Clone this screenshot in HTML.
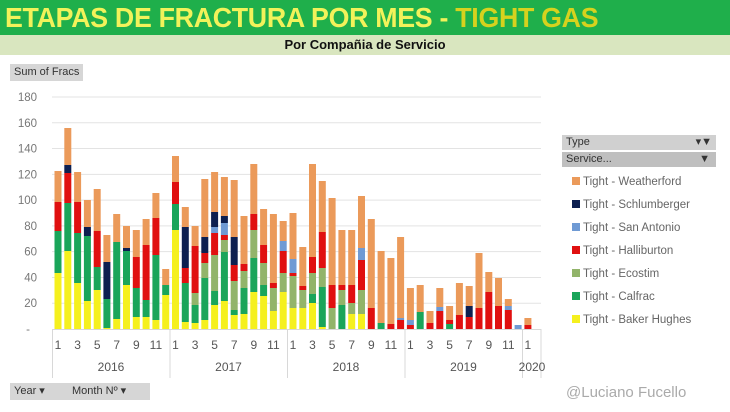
<!DOCTYPE html>
<html><head><meta charset="utf-8"><style>
body{margin:0;width:730px;height:412px;overflow:hidden;background:#fff;font-family:"Liberation Sans",sans-serif;position:relative}
.t{position:absolute;left:0;top:0;width:730px;height:35px;background:#1faf4b;}
.t span.m{position:absolute;left:5px;top:2px;font-size:28px;font-weight:bold;color:#f2f25a;letter-spacing:-0.3px;white-space:nowrap;transform:scaleX(0.955);transform-origin:0 0}
.s{position:absolute;left:0;top:35px;width:730px;height:20px;background:#d9e6bf;text-align:center;font-size:13px;font-weight:bold;line-height:20px;color:#111}
.btn{position:absolute;background:#d6d6d6;color:#333;font-size:11px;line-height:17px;padding:0 4px}
.lg{position:absolute;left:572px;font-size:11.5px;color:#666;white-space:nowrap}
.lg i{display:inline-block;width:8px;height:8px;margin-right:3px;vertical-align:0px}
</style></head><body>
<div class="t"><span class="m">ETAPAS DE FRACTURA POR MES - <span style="color:#d6d21e">TIGHT GAS</span></span></div>
<div class="s">Por Compañia de Servicio</div>
<div class="btn" style="left:10px;top:64px;">Sum of Fracs</div>
<div class="btn" style="left:10px;top:383px;width:54px;">Year ▾</div>
<div class="btn" style="left:68px;top:383px;width:74px;">Month  Nº ▾</div>
<div style="position:absolute;left:566px;top:384px;font-size:15px;color:#aaa">@Luciano Fucello</div>
<div style="position:absolute;left:562px;top:135px;width:154px;height:15px;background:#d0d0d0;font-size:11px;line-height:15px;color:#333;padding-left:4px;box-sizing:border-box">Type<span style="float:right;margin-right:4px">▾▼</span></div>
<div style="position:absolute;left:562px;top:152px;width:154px;height:15px;background:#bfbfbf;font-size:11px;line-height:15px;color:#333;padding-left:4px;box-sizing:border-box">Service...<span style="float:right;margin-right:6px">▼</span></div>
<div class="lg" style="top:176px"><i style="background:#eb9a5a"></i>Tight - Weatherford</div>
<div class="lg" style="top:199px"><i style="background:#0d1f50"></i>Tight - Schlumberger</div>
<div class="lg" style="top:222px"><i style="background:#6f9ad4"></i>Tight - San Antonio</div>
<div class="lg" style="top:245px"><i style="background:#e01010"></i>Tight - Halliburton</div>
<div class="lg" style="top:268px"><i style="background:#92b46a"></i>Tight - Ecostim</div>
<div class="lg" style="top:291px"><i style="background:#1aa55a"></i>Tight - Calfrac</div>
<div class="lg" style="top:314px"><i style="background:#f5f01e"></i>Tight - Baker Hughes</div>
<svg id="c" width="730" height="412" style="position:absolute;left:0;top:0" xmlns="http://www.w3.org/2000/svg"></svg>
<script>
var C={Y:"#f5f01e",G:"#1aa55a",E:"#92b46a",R:"#e01010",S:"#6f9ad4",N:"#0d1f50",W:"#eb9a5a"};
var B=[
"Y273G231R202W171","Y251G203R173N165W128","Y283G233R202W172","Y301G236N227W200","Y290G267R231W189","Y328G299N262W235",
"Y319G242W214","Y285G251N248W226","Y317G288R257W230","Y317G300R245W219","Y320G255R218W193","Y295G285W269",
"Y230G204R182W156","Y322G283R268N227W207","Y323G305E293R246W226","Y320G278E263R253N237W179","Y305G291E255R233S227N212W172","Y301G252E240R235S223N216W177",
"Y315G310E281R265N237W180","Y314G288E271R264W216","Y292G258E230R214W164","Y296G285E263R245W209","Y311E288R283W214","Y292E273R251S241W221",
"Y308E276R273S259W213","Y308E290R286W247","Y303G294E273R257W164","Y327G287E268R232W181","E308R285W198","G305E290R285W230",
"Y314E303R285W230","Y314E290R260S248W196","R308W219","G323W251","R324W258","R320S318W237",
"R325S320W288","G312W285","R323W311","R311S307W288","G324R320W306","R315W283",
"R317N306W286","R308W253","R292W272","R306W278","R310S306W299","S325","R325W318"];
var s='';
s+='<g font-family="Liberation Sans" font-size="11.5" fill="#777" text-anchor="end">';
for(var k=0;k<=9;k++){var y=329-k*25.78;
 if(k>0){s+='<line x1="52" x2="541" y1="'+y+'" y2="'+y+'" stroke="#e3e3e3"/>';s+='<text x="37" y="'+(y+4)+'">'+(k*20)+'</text>';}
 else s+='<text x="30" y="'+(y+4)+'">-</text>';}
s+='</g>';
B.forEach(function(b,i){var x=54.5+i*9.79;var prev=329;var m=b.match(/[A-Z]\d+/g);
 m.forEach(function(p){var c=p[0],y=+p.slice(1);s+='<rect x="'+x.toFixed(1)+'" y="'+y+'" width="7" height="'+(prev-y)+'" fill="'+C[c]+'"/>';prev=y;});});
s+='<line x1="52" x2="541" y1="329.5" y2="329.5" stroke="#d8d8d8"/>';
[52.5,170,287.5,405,522.5,541].forEach(function(x){s+='<line x1="'+x+'" x2="'+x+'" y1="329" y2="378" stroke="#d8d8d8"/>';});
s+='<g font-family="Liberation Sans" font-size="12" fill="#555" text-anchor="middle">';
for(var i=0;i<49;i++){var mo=i%12+1;if(mo%2==1)s+='<text x="'+(58+i*9.79).toFixed(1)+'" y="349">'+mo+'</text>';}
["2016","2017","2018","2019"].forEach(function(t,j){s+='<text x="'+(111+j*117.5)+'" y="371">'+t+'</text>';});
s+='<text x="532" y="371">2020</text></g>';
document.getElementById('c').innerHTML=s;
</script>
</body></html>
